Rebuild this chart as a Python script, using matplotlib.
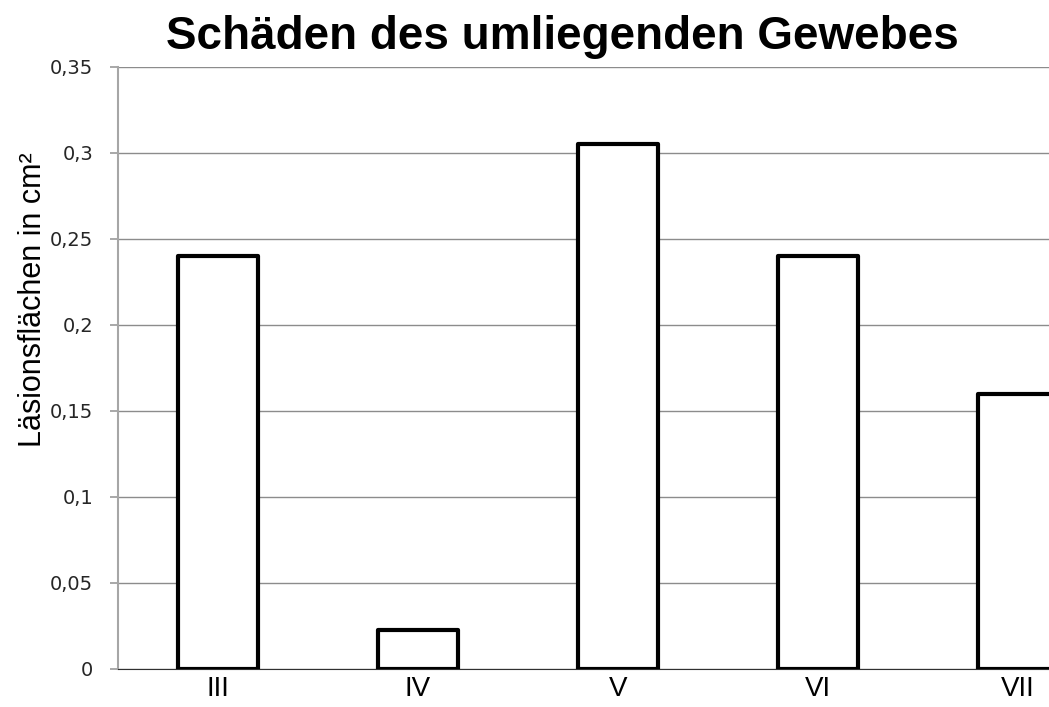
import numpy as np
import matplotlib.pyplot as plt

# lesion areas per group
groups = ['III', 'IV', 'V', 'VI', 'VII']
areas = [0.24, 0.0225, 0.305, 0.24, 0.16]
yticks = [0, 0.05, 0.1, 0.15, 0.2, 0.25, 0.3, 0.35]
ytick_labels = ['0', '0,05', '0,1', '0,15', '0,2', '0,25', '0,3', '0,35']

plt.rcParams['font.family'] = ['Liberation Sans', 'DejaVu Sans']

fig = plt.figure(figsize=(10.49, 7.07), dpi=100)
W, H = 1049, 707
# plot area runs past the right edge, last bar is cut off
ax = fig.add_axes([118 / W, 1 - 669 / H, 1000 / W, (669 - 67) / H])

x = np.arange(len(groups))
ax.bar(x, areas, width=0.4, facecolor='white', edgecolor='black',
       linewidth=3, zorder=3, joinstyle='round')

ax.set_xlim(-0.5, len(groups) - 0.5)
ax.set_ylim(0, 0.35)
ax.set_yticks(yticks)
ax.set_yticklabels(ytick_labels, fontsize=14, family='DejaVu Sans', color='#262626')
ax.set_xticks(x)
ax.set_xticklabels(groups, fontsize=20, va='top')
ax.tick_params(axis='x', length=0, pad=5)
ax.tick_params(axis='y', length=6, width=1.2, color='#999999', pad=12)

ax.grid(axis='y', color='#8c8c8c', linewidth=1)
ax.set_axisbelow(True)
for s in ['top', 'right']:
    ax.spines[s].set_visible(False)
ax.spines['left'].set_color('#a6a6a6')
ax.spines['left'].set_linewidth(1.5)
ax.spines['bottom'].set_color('#303030')

ax.set_ylabel('Läsionsflächen in cm²', fontsize=22)
ax.yaxis.set_label_coords(-0.07, (669 - 300) / 602)
fig.text(562 / W, 1 - 37 / H, 'Schäden des umliegenden Gewebes',
         fontsize=33, fontweight='bold', ha='center', va='center')

fig.savefig('out.png', dpi=100)
